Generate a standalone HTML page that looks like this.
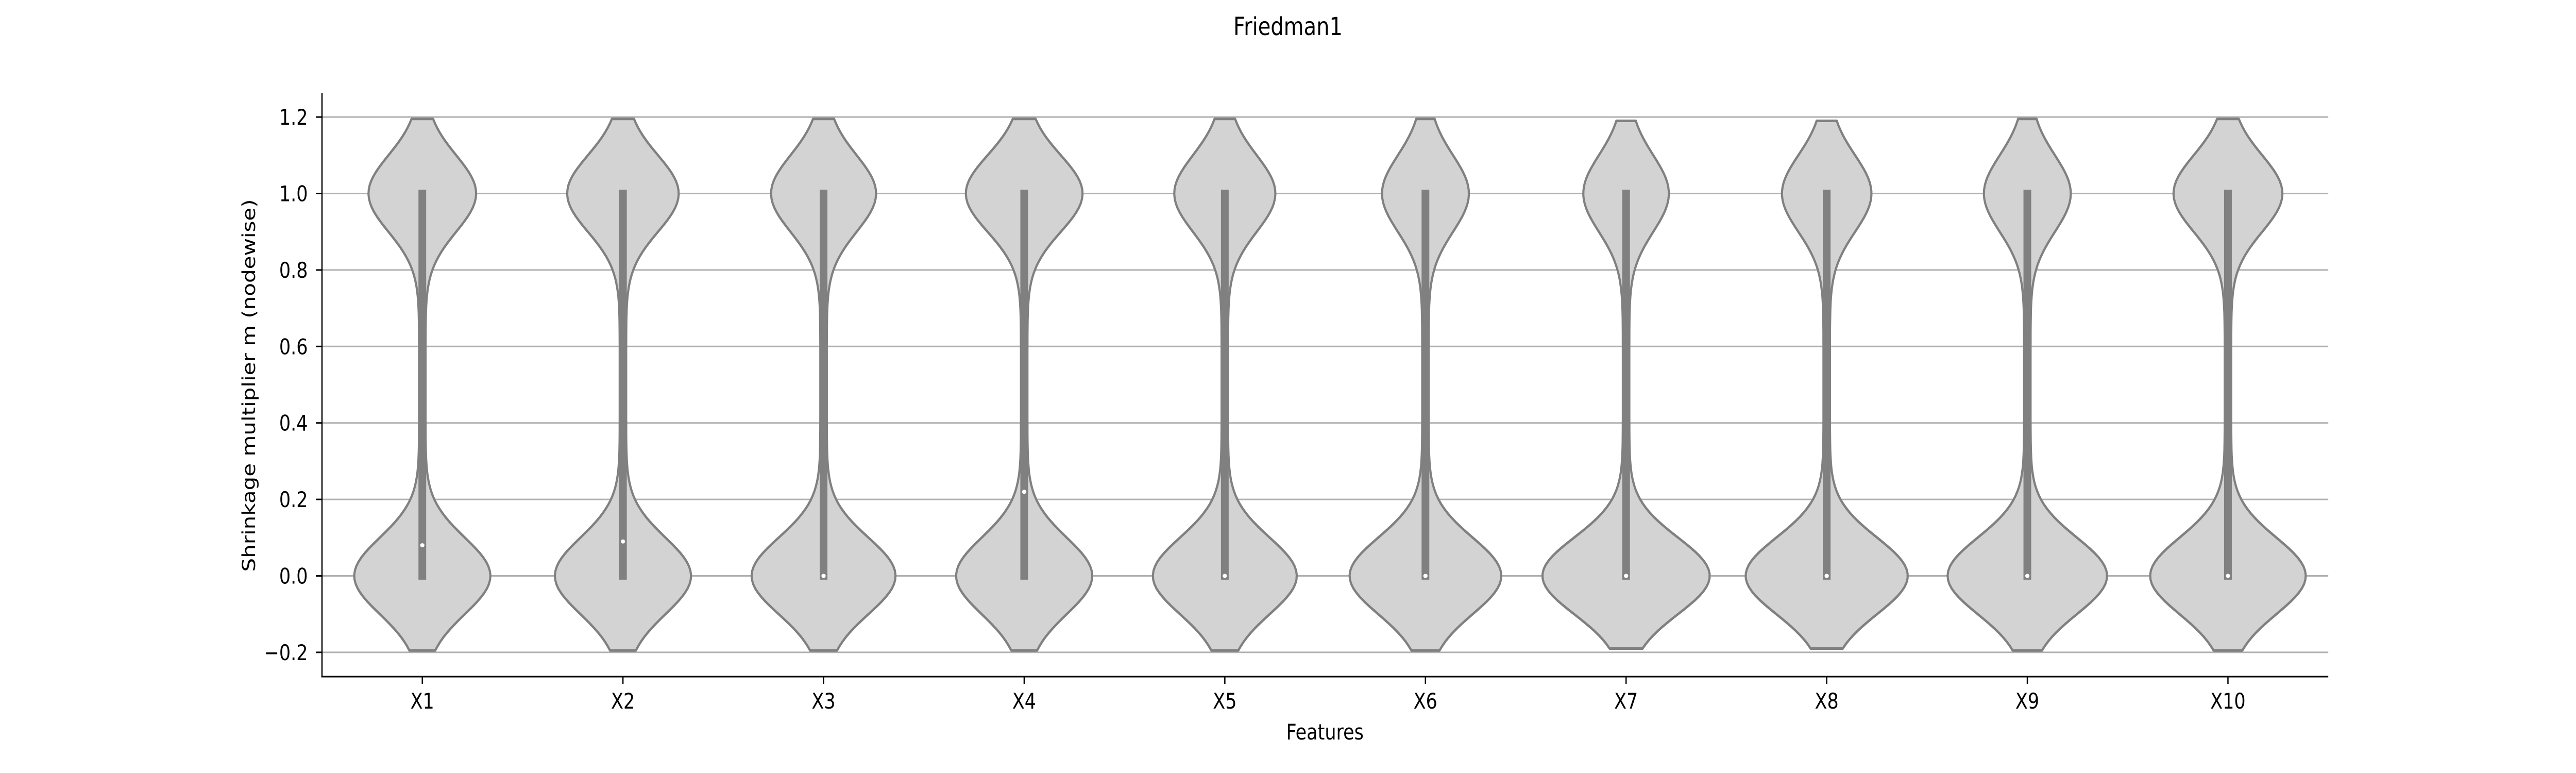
<!DOCTYPE html>
<html><head><meta charset="utf-8"><style>
html,body{margin:0;padding:0;background:#fff;width:100%;height:100%;overflow:hidden;}
svg{display:block;width:100vw;height:100vh;font-family:"DejaVu Sans","Liberation Sans",sans-serif;}
</style></head><body>
<svg id="chart" viewBox="0 0 6000 1500" preserveAspectRatio="none" xmlns="http://www.w3.org/2000/svg">
<text x="3000" y="68" font-size="48" text-anchor="middle">Friedman1</text>
<g id="grid"></g>
<g id="violins"></g>
<g id="axes"></g>
<text x="3086" y="1435" font-size="42" text-anchor="middle">Features</text>
<text transform="translate(594,748) rotate(-90)" font-size="42" text-anchor="middle">Shrinkage multiplier m (nodewise)</text>
</svg>
<script>
const categories = ["X1","X2","X3","X4","X5","X6","X7","X8","X9","X10"];
const medians = [0.08,0.09,0.0,0.22,0.0,0.0,0.0,0.0,0.0,0.0];
const topDensity = [0.78,0.81,0.76,0.85,0.73,0.62,0.61,0.64,0.62,0.79];
const bottomDensity = [1.0,1.0,1.06,1.0,1.06,1.12,1.24,1.2,1.18,1.15];
const dataMax = [1.195,1.195,1.195,1.195,1.195,1.195,1.19,1.19,1.195,1.195];
const dataMin = [-0.195,-0.195,-0.195,-0.195,-0.195,-0.195,-0.19,-0.19,-0.195,-0.195];
const boxLow = [-0.01,-0.01,-0.01,-0.01,-0.01,-0.01,-0.01,-0.01,-0.01,-0.01];
const boxHigh = [1.01,1.01,1.01,1.01,1.01,1.01,1.01,1.01,1.01,1.01];
const yTicks = [-0.2,0.0,0.2,0.4,0.6,0.8,1.0,1.2];
const yTickLabels = ["\u22120.2","0.0","0.2","0.4","0.6","0.8","1.0","1.2"];

const NS="http://www.w3.org/2000/svg";
const L=750,R=5423,T=180,B=1313;
const yMin=-0.2635,yMax=1.2635;
function y(v){return B-(v-yMin)/(yMax-yMin)*(B-T);}
const band=(R-L)/categories.length;
function x(i){return L+band*(i+0.5);}
const wScale=151, sig=0.1, floorW=0.05;
function mk(tag,attrs,parent){const e=document.createElementNS(NS,tag);for(const k in attrs)e.setAttribute(k,attrs[k]);parent.appendChild(e);return e;}
const grid=document.getElementById('grid'),vg=document.getElementById('violins'),ax=document.getElementById('axes');
yTicks.forEach((t,i)=>{
  const g=mk('line',{x1:L,x2:R,y1:y(t),y2:y(t),stroke:'#b0b0b0','stroke-width':3},grid);
  
  
  const tk=mk('line',{x1:L-14,x2:L,y1:y(t),y2:y(t),stroke:'#000','stroke-width':3},ax);
  
  
  const tl=mk('text',{x:717,y:y(t)+15,'font-size':42,'text-anchor':'end'},ax);
  tl.textContent=yTickLabels[i];
  
  
});
categories.forEach((c,i)=>{
  const cx=x(i);
  const pts=[];
  const n=120;
  for(let k=0;k<=n;k++){
    const v=dataMin[i]+(dataMax[i]-dataMin[i])*k/n;
    const d=topDensity[i]*Math.exp(-Math.pow(v-1,2)/(2*sig*sig))+bottomDensity[i]*Math.exp(-v*v/(2*sig*sig))+floorW;
    pts.push([v,d*wScale]);
  }
  let p='M'+pts.map(q=>(cx+q[1]).toFixed(1)+','+y(q[0]).toFixed(1)).join(' L');
  p+=' L'+pts.slice().reverse().map(q=>(cx-q[1]).toFixed(1)+','+y(q[0]).toFixed(1)).join(' L')+' Z';
  const vp=mk('path',{d:p,fill:'#d3d3d3',stroke:'#808080','stroke-width':5,'stroke-linejoin':'round'},vg);
  
  
  const bx=mk('rect',{x:cx-9,width:18,y:y(boxHigh[i]),height:y(boxLow[i])-y(boxHigh[i]),fill:'#808080'},vg);
  
  
  const md=mk('ellipse',{cx:cx,cy:y(medians[i]),rx:5,ry:4,fill:'#fff'},vg);
  
  
  const tk=mk('line',{x1:cx,x2:cx,y1:B,y2:B+14,stroke:'#000','stroke-width':3},ax);
  
  
  const tl=mk('text',{x:cx,y:1375,'font-size':42,'text-anchor':'middle'},ax);
  tl.textContent=c;
  
  
});
const sl=mk('line',{x1:L,x2:L,y1:T,y2:B+1.5,stroke:'#000','stroke-width':3},ax);


const sb=mk('line',{x1:L-1.5,x2:R,y1:B,y2:B,stroke:'#000','stroke-width':3},ax);


</script>
</body></html>
